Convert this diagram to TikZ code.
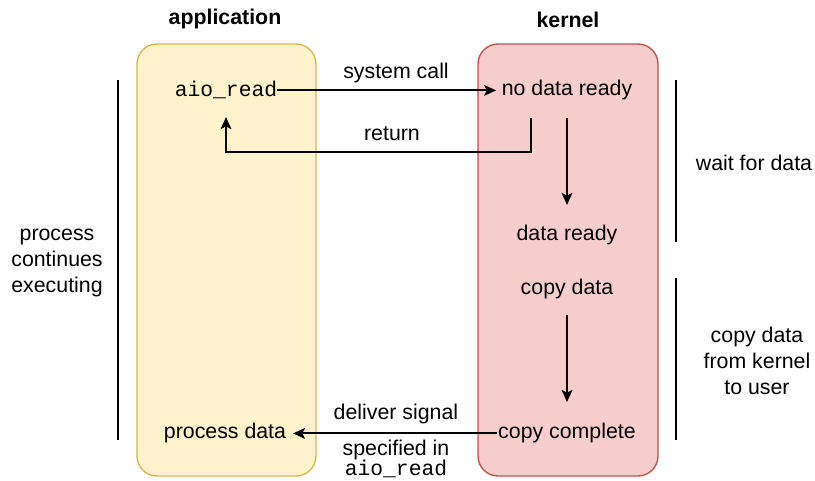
\documentclass[tikz,border=0pt]{standalone}
\usepackage{fontspec}
\setmainfont{Liberation Sans}
\setmonofont{Liberation Mono}
\usetikzlibrary{arrows.meta}
\definecolor{appfill}{HTML}{FFF2CC}
\definecolor{appdraw}{HTML}{D6B656}
\definecolor{kerfill}{HTML}{F8CECC}
\definecolor{kerdraw}{HTML}{B85450}
\tikzset{
  lbl/.style={inner sep=0pt, yshift=-1.8pt, font=\fontsize{16}{19.5}\selectfont, align=center},
  mono/.style={inner sep=0pt, yshift=-1.8pt, font=\fontsize{16}{19.5}\selectfont\ttfamily},
  ttl/.style={inner sep=0pt, yshift=-1.8pt, font=\fontsize{16}{19.5}\selectfont\bfseries},
  lane/.style={rounded corners=15pt, line width=1pt},
  conn/.style={line width=1.5pt, -{Stealth[length=9pt,width=8pt,inset=2pt]}},
  bar/.style={line width=1.5pt},
}
\begin{document}
\begin{tikzpicture}[x=0.75pt,y=-0.75pt]
\useasboundingbox (0,0) rectangle (815,480);
\draw[lane, fill=appfill, draw=appdraw] (137,44) rectangle (316,476);
\draw[lane, fill=kerfill, draw=kerdraw] (478,44) rectangle (658,476);
\node[ttl] (tapp) at (225,17) {application};
\node[ttl] (tker) at (568,17) {kernel};

\node[mono] (aio) at (226,88) {aio\_read};
\node[lbl, inner xsep=4pt] (nodata) at (567,88) {no data ready};
\node[lbl] (ready) at (567,233) {data ready};
\node[lbl] (copy) at (567,287) {copy data};
\node[lbl, inner xsep=1pt] (complete) at (567,431) {copy complete};
\node[lbl, inner xsep=5pt] (proc) at (225,431) {process data};

\node[lbl] (sys) at (396,71) {system call};
\node[lbl] (ret) at (392,131) {return};
\node[lbl] (deliv) at (396,412) {deliver signal};
\node[lbl, font=\fontsize{16}{15}\selectfont] (spec) at (396,457) {specified in\\\texttt{aio\_read}};

\coordinate (r1) at (531,118);
\coordinate (r2) at (531,152);
\coordinate (r3) at (226,152);
\coordinate (r4) at (226,117);
\coordinate (d1) at (567,118);
\coordinate (d2) at (567,205);
\coordinate (c1) at (567,315);
\coordinate (c2) at (567,402);

\draw[conn] (aio.east) -- (nodata.west);
\draw[conn] (r1) -- (r2) -- (r3) -- (r4);
\draw[conn] (d1) -- (d2);
\draw[conn] (c1) -- (c2);
\draw[conn] (complete.west) -- (proc.east);

\coordinate (lb1) at (118,80);
\coordinate (lb2) at (118,440);
\coordinate (rb1) at (676,80);
\coordinate (rb2) at (676,242);
\coordinate (rb3) at (676,278);
\coordinate (rb4) at (676,440);
\draw[bar] (lb1) -- (lb2);
\draw[bar] (rb1) -- (rb2);
\draw[bar] (rb3) -- (rb4);

\node[lbl] (pce) at (57,261) {process\\continues\\executing};
\node[lbl] (wait) at (754,160) {wait for data};
\node[lbl] (cdk) at (757,358) {copy data\\from kernel\\to user};
\end{tikzpicture}
\end{document}
